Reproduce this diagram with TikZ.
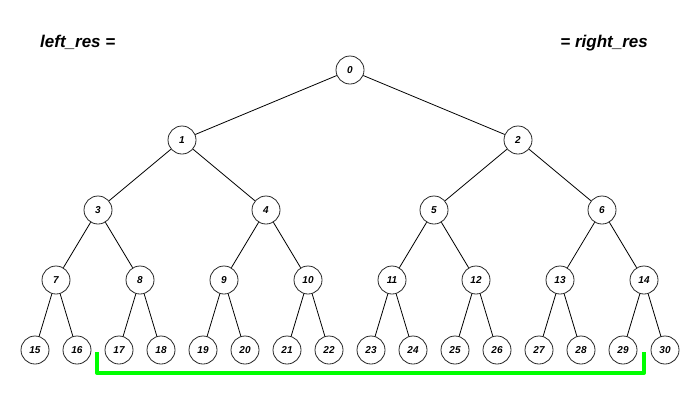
\documentclass[tikz,border=0pt]{standalone}
\usepackage{fontspec}
\setmainfont{Liberation Sans}
\begin{document}
\begin{tikzpicture}[x=1pt,y=-1pt,
  tnode/.style={circle,draw=black!85,line width=0.8pt,minimum size=28pt,inner sep=0pt,fill=white,
    font=\fontsize{10}{12}\selectfont\bfseries\itshape},
  edge/.style={draw=black,line width=0.8pt},
  lbl/.style={inner sep=0pt,font=\fontsize{17}{20}\selectfont\bfseries\itshape},
  bracket/.style={draw={rgb,255:red,0;green,255;blue,0},line width=4pt,line join=round}]
\useasboundingbox (0,0) rectangle (700,400);
% level 0
\node[tnode] (n0) at (350,70) {0};
% level 1
\node[tnode] (n1) at (182,140) {1};
\node[tnode] (n2) at (518,140) {2};
% level 2
\foreach \i [count=\k from 0] in {3,...,6}{
  \node[tnode] (n\i) at ({98+168*\k},210) {\i};
}
% level 3
\foreach \i [count=\k from 0] in {7,...,14}{
  \node[tnode] (n\i) at ({56+84*\k},280) {\i};
}
% level 4
\foreach \i [count=\k from 0] in {15,...,30}{
  \node[tnode] (n\i) at ({35+42*\k},350) {\i};
}
% edges
\foreach \p in {0,...,14}{
  \pgfmathtruncatemacro{\a}{2*\p+1}
  \pgfmathtruncatemacro{\b}{2*\p+2}
  \draw[edge] (n\p) -- (n\a);
  \draw[edge] (n\p) -- (n\b);
}
% labels
\node[lbl,anchor=base west] (lres) at (40,47) {left\_res =};
\node[lbl,anchor=base east] (rres) at (648,47) {= right\_res};
% green bracket
\coordinate (g1) at (97,352);
\coordinate (g2) at (97,373);
\coordinate (g3) at (644,373);
\coordinate (g4) at (644,352);
\draw[bracket] (g1) -- (g2) -- (g3) -- (g4);
\end{tikzpicture}
\end{document}
